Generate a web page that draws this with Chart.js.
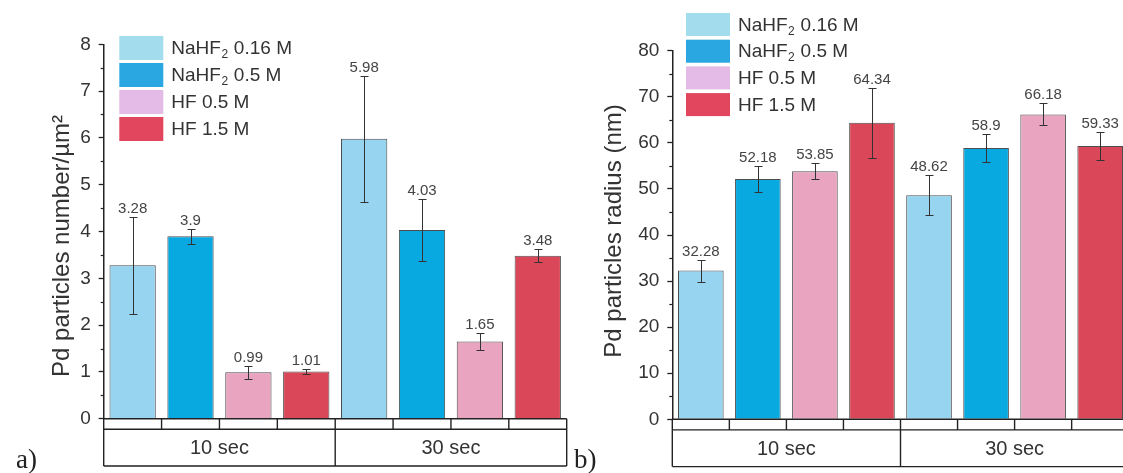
<!DOCTYPE html>
<html><head><meta charset="utf-8">
<script src="https://cdn.jsdelivr.net/npm/chart.js@4.4.1/dist/chart.umd.min.js"></script>
<style>
html,body{margin:0;padding:0;background:#fff;overflow:hidden;width:1123px;height:473px;position:relative;}
#wa{position:absolute;left:0;top:0;width:570px;height:473px;}
#wb{position:absolute;left:570px;top:0;width:580px;height:473px;}
</style></head><body>
<div id="wa"><canvas id="ca"></canvas></div>
<div id="wb"><canvas id="cb"></canvas></div>
<script>
// ---- data ----
const categories = ['10 sec', '30 sec'];
const seriesLabels = ['NaHF₂ 0.16 M', 'NaHF₂ 0.5 M', 'HF 0.5 M', 'HF 1.5 M'];

const densityNaHF016 = [3.28, 5.98];
const densityNaHF05  = [3.9, 4.03];
const densityHF05    = [0.99, 1.65];
const densityHF15    = [1.01, 3.48];
const densityErrNaHF016 = [1.04, 1.35];
const densityErrNaHF05  = [0.16, 0.67];
const densityErrHF05    = [0.14, 0.18];
const densityErrHF15    = [0.045, 0.14];

const radiusNaHF016 = [32.28, 48.62];
const radiusNaHF05  = [52.18, 58.9];
const radiusHF05    = [53.85, 66.18];
const radiusHF15    = [64.34, 59.33];
const radiusErrNaHF016 = [2.4, 4.3];
const radiusErrNaHF05  = [2.8, 2.95];
const radiusErrHF05    = [1.8, 2.4];
const radiusErrHF15    = [7.6, 3.1];

const densityTicks = [0, 8, 1];   // min, max, step
const radiusTicks  = [0, 80, 10];

// ---- styles ----
const barColors    = ['#97d4ef', '#08a9e0', '#e9a4c0', '#d94758'];
const legendColors = ['#a3dcec', '#2aa6e1', '#e4bbe6', '#e2455e'];
const SANS = '"Liberation Sans", Arial, sans-serif';
const SERIF = '"Liberation Serif", "Times New Roman", serif';

function drawSubText(ctx, txt, x, y, size) {
  const parts = txt.split('₂');
  let cx = x;
  ctx.textBaseline = 'middle';
  ctx.textAlign = 'left';
  parts.forEach((p, i) => {
    ctx.font = size + 'px ' + SANS;
    ctx.fillText(p, cx, y);
    cx += ctx.measureText(p).width;
    if (i < parts.length - 1) {
      ctx.font = Math.round(size * 0.65) + 'px ' + SANS;
      ctx.fillText('2', cx + 0.5, y + size * 0.3);
      cx += ctx.measureText('2').width + 1;
    }
  });
}

function makePlugin(cfg) {
  return {
    id: 'custom' + cfg.key,
    afterDatasetsDraw(chart) {
      const ctx = chart.ctx, y = chart.scales.y;
      ctx.save();
      chart.data.datasets.forEach((ds, di) => {
        const meta = chart.getDatasetMeta(di);
        meta.data.forEach((bar, i) => {
          const v = ds.data[i], e = cfg.errors[di][i];
          const yt = Math.round(y.getPixelForValue(v + e)) + 0.5;
          const yb = Math.round(y.getPixelForValue(v - e)) + 0.5;
          const x = Math.round(bar.x) + 0.5;
          ctx.strokeStyle = '#333';
          ctx.lineWidth = 1;
          ctx.beginPath();
          ctx.moveTo(x, yt); ctx.lineTo(x, yb);
          ctx.moveTo(x - 4, yt); ctx.lineTo(x + 4, yt);
          ctx.moveTo(x - 4, yb); ctx.lineTo(x + 4, yb);
          ctx.stroke();
          ctx.fillStyle = '#444';
          ctx.font = '15px ' + SANS;
          ctx.textAlign = 'center';
          ctx.textBaseline = 'alphabetic';
          ctx.fillText(String(v), bar.x, yt - 5);
        });
      });
      ctx.restore();
    },
    afterDraw(chart) {
      const ctx = chart.ctx, y = chart.scales.y, a = chart.chartArea;
      ctx.save();
      // minor ticks
      ctx.strokeStyle = '#222';
      ctx.lineWidth = 1.2;
      const [mn, mx, st] = cfg.ticks;
      for (let v = mn + st / 2; v < mx; v += st) {
        const py = Math.round(y.getPixelForValue(v)) + 0.5;
        ctx.beginPath(); ctx.moveTo(a.left - 3, py); ctx.lineTo(a.left, py); ctx.stroke();
      }
      // category table
      const b = a.bottom, r1 = b + 10.6, r2 = b + 47.3;
      const n = categories.length, nd = chart.data.datasets.length;
      const cw = (a.right - a.left) / n;
      ctx.lineWidth = 1.4;
      ctx.strokeStyle = '#222';
      ctx.beginPath();
      ctx.moveTo(a.left, b); ctx.lineTo(a.right, b);
      ctx.moveTo(a.left, r1); ctx.lineTo(a.right, r1);
      ctx.moveTo(a.left, r2); ctx.lineTo(a.right, r2);
      for (let c = 0; c <= n; c++) {
        const x = a.left + c * cw;
        ctx.moveTo(x, b); ctx.lineTo(x, r2);
        if (c < n) {
          for (let k = 1; k < nd; k++) {
            const xs = x + k * cw / nd;
            ctx.moveTo(xs, b); ctx.lineTo(xs, r1);
          }
        }
      }
      ctx.stroke();
      ctx.fillStyle = '#333';
      ctx.font = '20px ' + SANS;
      ctx.textAlign = 'center';
      ctx.textBaseline = 'middle';
      categories.forEach((c, i) => ctx.fillText(c, a.left + (i + 0.5) * cw, (r1 + r2) / 2 + 1));
      // legend
      seriesLabels.forEach((lab, i) => {
        const ly = cfg.legend.y + i * cfg.legend.pitch;
        ctx.fillStyle = legendColors[i];
        ctx.fillRect(cfg.legend.x, ly, 44, cfg.legend.h);
        ctx.fillStyle = '#333';
        drawSubText(ctx, lab, cfg.legend.x + 52, ly + cfg.legend.h / 2 + 1, 19);
      });
      // axis title
      ctx.save();
      ctx.translate(cfg.title.x, cfg.title.y);
      ctx.rotate(-Math.PI / 2);
      ctx.fillStyle = '#333';
      ctx.font = '24px ' + SANS;
      ctx.textAlign = 'center';
      ctx.textBaseline = 'middle';
      ctx.fillText(cfg.title.text, 0, 0);
      ctx.restore();
      // panel letter
      ctx.fillStyle = '#222';
      ctx.font = '27px ' + SERIF;
      ctx.textAlign = 'left';
      ctx.textBaseline = 'alphabetic';
      ctx.fillText(cfg.letter.text, cfg.letter.x, cfg.letter.y);
      ctx.restore();
    }
  };
}

function makeChart(canvasId, seriesData, cfg) {
  return new Chart(document.getElementById(canvasId), {
    type: 'bar',
    data: {
      labels: categories,
      datasets: seriesData.map((d, i) => ({
        label: seriesLabels[i],
        data: d,
        backgroundColor: barColors[i],
        borderColor: '#4d4d4d',
        borderWidth: 1,
        barPercentage: 0.8,
        categoryPercentage: 1.0
      }))
    },
    options: {
      responsive: true,
      maintainAspectRatio: false,
      animation: false,
      devicePixelRatio: 1,
      layout: { padding: cfg.padding },
      plugins: { legend: { display: false }, tooltip: { enabled: false } },
      scales: {
        x: { display: false },
        y: {
          min: cfg.ticks[0], max: cfg.ticks[1],
          afterFit(s) { s.width = cfg.axisWidth; },
          ticks: { stepSize: cfg.ticks[2], color: '#333', padding: 8, font: { family: SANS, size: 19 } },
          grid: { display: true, drawOnChartArea: false, drawTicks: true, tickLength: 5, tickColor: '#222', tickWidth: 1.3 },
          border: { display: true, color: '#222', width: 1.5 }
        }
      }
    },
    plugins: [makePlugin(cfg)]
  });
}

makeChart('ca', [densityNaHF016, densityNaHF05, densityHF05, densityHF15], {
  key: 'A',
  errors: [densityErrNaHF016, densityErrNaHF05, densityErrHF05, densityErrHF15],
  ticks: densityTicks,
  padding: { top: 44.3, right: 3.3, bottom: 54.3, left: 0 },
  axisWidth: 103.7,
  legend: { x: 119.3, y: 36, pitch: 27, h: 24 },
  title: { text: 'Pd particles number/µm²', x: 62, y: 246 },
  letter: { text: 'a)', x: 16, y: 468 }
});

makeChart('cb', [radiusNaHF016, radiusNaHF05, radiusHF05, radiusHF15], {
  key: 'B',
  errors: [radiusErrNaHF016, radiusErrNaHF05, radiusErrHF05, radiusErrHF15],
  ticks: radiusTicks,
  padding: { top: 50.7, right: 21.3, bottom: 53.7, left: 0 },
  axisWidth: 102.3,
  legend: { x: 116, y: 13, pitch: 26.7, h: 23 },
  title: { text: 'Pd particles radius (nm)', x: 44, y: 231 },
  letter: { text: 'b)', x: 4, y: 468 }
});
</script>
</body></html>
